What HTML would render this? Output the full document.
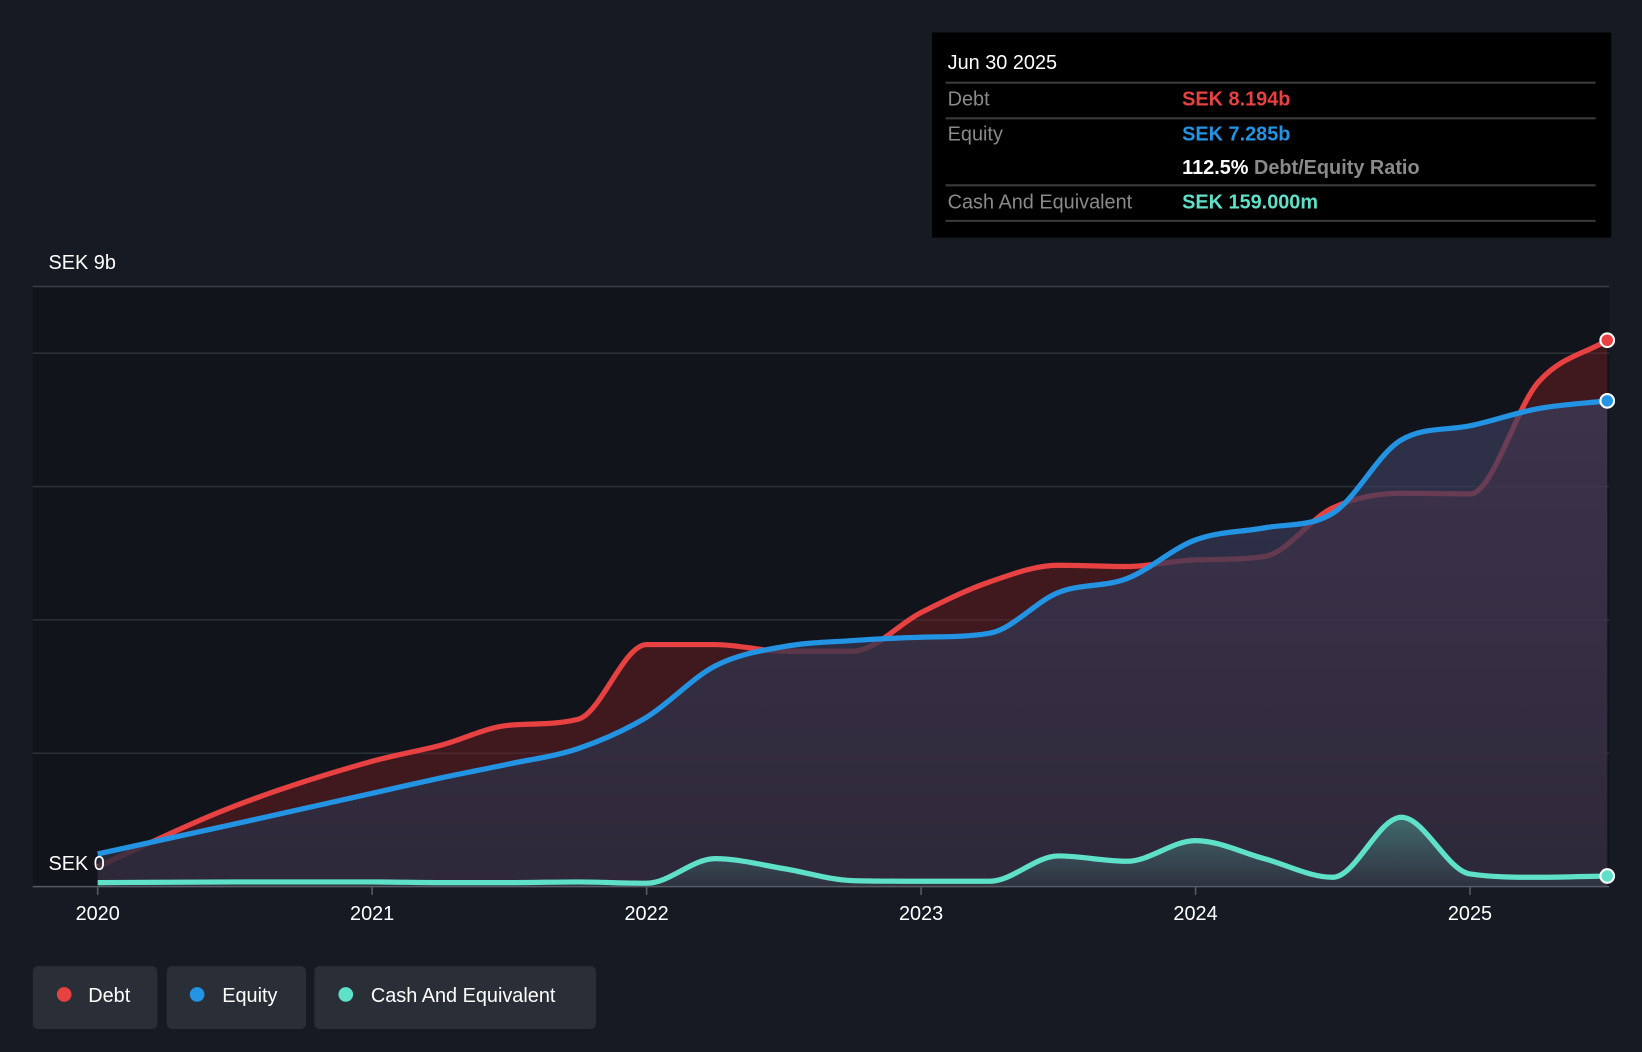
<!DOCTYPE html>
<html><head><meta charset="utf-8"><style>
html,body{margin:0;padding:0;background:#161b23;}
svg{display:block;font-family:"Liberation Sans",sans-serif;}
</style></head><body>
<svg id="chart" width="1642" height="1052" viewBox="0 0 1568 1005" xmlns="http://www.w3.org/2000/svg">
<defs>
<linearGradient id="eqg" x1="0" y1="0" x2="0" y2="1"><stop offset="0" stop-color="#3b3d5e" stop-opacity="0.7"/><stop offset="1" stop-color="#2a2b3d" stop-opacity="0.85"/></linearGradient>
<linearGradient id="cg" x1="0" y1="0" x2="0" y2="1"><stop offset="0" stop-color="#5fe0c8" stop-opacity="0.35"/><stop offset="1" stop-color="#5fe0c8" stop-opacity="0.05"/></linearGradient>
</defs>
<rect x="0" y="0" width="1568" height="1005" fill="#161b23"/>
<rect x="31" y="274" width="1506" height="573" fill="#11141a"/>
<g id="grid"></g>
<g id="layers"></g>
<text x="46" y="257" fill="#fff" font-size="19">SEK 9b</text>
<text x="46" y="831" fill="#fff" font-size="19">SEK 0</text>
<line x1="31" y1="847" x2="1537" y2="847" stroke="#555a63" stroke-width="1.5"/>
<g id="xticks"></g>
<g>
<rect x="890" y="31" width="649" height="196" fill="#000"/>
<text x="905" y="66" fill="#fff" font-size="19">Jun 30 2025</text>
<line x1="903" y1="79" x2="1524" y2="79" stroke="#3a3a3a" stroke-width="2"/>
<text x="905" y="101" fill="#8a8a8a" font-size="19">Debt</text>
<text x="1129" y="101" fill="#e84142" font-size="19" font-weight="bold">SEK 8.194b</text>
<line x1="903" y1="113" x2="1524" y2="113" stroke="#3a3a3a" stroke-width="2"/>
<text x="905" y="134" fill="#8a8a8a" font-size="19">Equity</text>
<text x="1129" y="134" fill="#2394e3" font-size="19" font-weight="bold">SEK 7.285b</text>
<text x="1129" y="166" fill="#fff" font-size="19" font-weight="bold">112.5%<tspan fill="#8a8a8a" font-weight="bold"> Debt/Equity Ratio</tspan></text>
<line x1="903" y1="177" x2="1524" y2="177" stroke="#3a3a3a" stroke-width="2"/>
<text x="905" y="199" fill="#8a8a8a" font-size="19">Cash And Equivalent</text>
<text x="1129" y="199" fill="#5fe0c8" font-size="19" font-weight="bold">SEK 159.000m</text>
<line x1="903" y1="211" x2="1524" y2="211" stroke="#3a3a3a" stroke-width="2"/>
</g>
<g><rect x="31" y="923" width="119" height="60" rx="5" fill="#2a2e37"/><circle cx="61" cy="950" r="7" fill="#e84142"/><text x="84" y="957" fill="#fff" font-size="19">Debt</text></g>
<g><rect x="159" y="923" width="133" height="60" rx="5" fill="#2a2e37"/><circle cx="188" cy="950" r="7" fill="#2394e3"/><text x="212" y="957" fill="#fff" font-size="19">Equity</text></g>
<g><rect x="300" y="923" width="269" height="60" rx="5" fill="#2a2e37"/><circle cx="330" cy="950" r="7" fill="#5fe0c8"/><text x="354" y="957" fill="#fff" font-size="19">Cash And Equivalent</text></g>
</svg>
<script>
const times = [2020,2020.5,2021,2021.25,2021.5,2021.75,2022,2022.25,2022.5,2022.75,2023,2023.25,2023.5,2023.75,2024,2024.25,2024.5,2024.75,2025,2025.25,2025.5];
const debt = [0.30,1.21,1.88,2.12,2.42,2.51,3.63,3.63,3.53,3.53,4.11,4.57,4.82,4.80,4.90,4.95,5.68,5.90,5.89,7.57,8.194];
const equity = [0.49,0.94,1.40,1.63,1.84,2.07,2.54,3.31,3.60,3.69,3.74,3.80,4.41,4.62,5.20,5.38,5.60,6.70,6.91,7.17,7.285];
const cash = [0.06,0.07,0.07,0.06,0.06,0.07,0.05,0.42,0.27,0.09,0.08,0.08,0.46,0.38,0.69,0.42,0.14,1.04,0.19,0.14,0.159];
const yTicks = [0,2,4,6,8];
const xTickYears = [2020,2021,2022,2023,2024,2025];
const NS="http://www.w3.org/2000/svg";
function xs(t){return 93+262.2*(t-2020);}
function ys(v){return 847-v*63.7;}
function el(tag,attrs,parent){const e=document.createElementNS(NS,tag);for(const k in attrs)e.setAttribute(k,attrs[k]);parent.appendChild(e);return e;}
function mono(px,py){
  const n=px.length,d=[],m=[];
  for(let i=0;i<n-1;i++)d.push((py[i+1]-py[i])/(px[i+1]-px[i]));
  m[0]=d[0];m[n-1]=d[n-2];
  for(let i=1;i<n-1;i++)m[i]=(d[i-1]*d[i]<=0)?0:(d[i-1]+d[i])/2;
  for(let i=0;i<n-1;i++){if(d[i]===0){m[i]=0;m[i+1]=0;continue;}const a=m[i]/d[i],b=m[i+1]/d[i],s=a*a+b*b;if(s>9){const t=3/Math.sqrt(s);m[i]=t*a*d[i];m[i+1]=t*b*d[i];}}
  let p="M"+px[0]+","+py[0];
  for(let i=0;i<n-1;i++){const h=(px[i+1]-px[i])/3;p+=" C"+(px[i]+h)+","+(py[i]+m[i]*h)+" "+(px[i+1]-h)+","+(py[i+1]-m[i+1]*h)+" "+px[i+1]+","+py[i+1];}
  return p;
}
const grid=document.getElementById('grid');
yTicks.forEach(v=>{if(v===0)return;const l=el('line',{x1:31,x2:1537,y1:ys(v),y2:ys(v),stroke:'#2c3038','stroke-width':1.5},grid);

});
el('line',{x1:31,x2:1537,y1:ys(9),y2:ys(9),stroke:'#3a3e47','stroke-width':1.5},grid);
const xt=document.getElementById('xticks');
xTickYears.forEach(y=>{el('line',{x1:xs(y),x2:xs(y),y1:847,y2:855,stroke:'#555a63','stroke-width':1.5},xt);
const t=el('text',{x:xs(y),y:879,fill:'#fff','font-size':19,'text-anchor':'middle'},xt);t.textContent=y;

});
const px=times.map(xs);
const layers=document.getElementById('layers');
function area(vals,fill,name){const py=vals.map(ys);const p=mono(px,py)+" L"+px[px.length-1]+",847 L"+px[0]+",847 Z";const a=el('path',{d:p,fill:fill},layers);

}
const ends=[];
function line(vals,col,name){const py=vals.map(ys);const l=el('path',{d:mono(px,py),fill:'none',stroke:col,'stroke-width':5,'stroke-linejoin':'round'},layers);


ends.push([px[px.length-1],py[py.length-1],col,name]);}
area(debt,'rgba(120,30,35,0.45)','debt-area');
line(debt,'#e84142','debt-line');
area(equity,'url(#eqg)','equity-area');
area(cash,'url(#cg)','cash-area');
line(equity,'#2394e3','equity-line');
line(cash,'#5fe0c8','cash-line');
ends.forEach(e=>{const c=el('circle',{cx:e[0],cy:e[1],r:6.5,fill:e[2],stroke:'#fff','stroke-width':2},layers);

});
</script>
</body></html>
